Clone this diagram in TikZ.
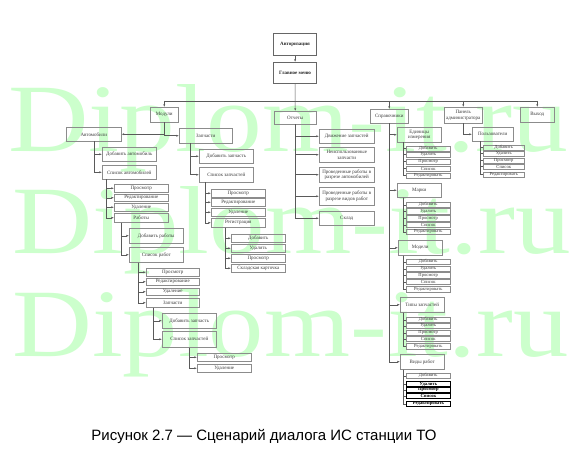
\documentclass[tikz,border=0pt]{standalone}
\usepackage{fontspec}
\setmainfont{Liberation Serif}
\newfontfamily\capfont{Liberation Sans}
\usetikzlibrary{arrows.meta}
\definecolor{wm}{RGB}{204,255,204}
\definecolor{bd}{RGB}{140,140,140}
\definecolor{ln}{RGB}{90,90,90}
\definecolor{tx}{RGB}{60,60,60}
\newcommand\bx[7][box]{\node[#1,anchor=north west,minimum width={(#5-#3)*1pt},minimum height={(#6-#4)*1pt}] (#2) at (#3,#4) {#7};}
\begin{document}
\begin{tikzpicture}[x=1pt,y=-1pt,
  box/.style={draw=bd,line width=0.5pt,inner sep=0pt,align=center,text=tx,font=\fontsize{5}{5.6}\selectfont},
  mainbox/.style={box,draw=black!60,line width=1.2pt,text=black!85,font=\bfseries\fontsize{5}{6}\selectfont},
  tiny/.style={box,font=\fontsize{4.6}{5}\selectfont},
  tinyb/.style={box,draw=black,line width=0.9pt,text=black,font=\bfseries\fontsize{4.6}{5}\selectfont},
  arr/.style={draw=ln,line width=0.5pt,-{Latex[length=2.6pt,width=2pt]}},
  con/.style={draw=ln,line width=0.5pt}]
\fill[white] (0,0) rectangle (574,460);
\useasboundingbox (0,0) rectangle (574,460);
% watermark
\node[anchor=base west,inner sep=0pt,text=wm] (wm1) at (8,152) {\resizebox{560pt}{67pt}{Diplom-it.ru}};
\node[anchor=base west,inner sep=0pt,text=wm] (wm2) at (12,253) {\resizebox{558pt}{67pt}{Diplom-it.ru}};
\node[anchor=base west,inner sep=0pt,text=wm] (wm3) at (12,356) {\resizebox{556pt}{67pt}{Diplom-it.ru}};
% top
\bx[mainbox]{auth}{273}{33}{316}{55}{Авторизация}
\bx[mainbox]{gm}{273}{62}{316}{83}{Главное меню}
\bx{mod}{150}{107}{178}{122}{Модули}
\bx{otch}{274}{111}{316}{124}{Отчеты}
\bx{spr}{370}{109}{408}{123}{Справочники}
\bx{pan}{444}{107}{482}{123}{Панель\\администратора}
\bx{exit}{520}{107}{554}{122}{Выход}
% Автомобили
\bx{avto}{66}{127}{121}{141}{Автомобили}
\bx{a1}{102}{147}{156}{161}{Добавить автомобиль}
\bx{a2}{102}{165}{156}{179}{Список автомобилей}
\bx{a21}{114}{184}{168}{192}{Просмотр}
\bx{a22}{114}{194}{168}{201}{Редактирование}
\bx{a23}{114}{203}{168}{211}{Удаление}
\bx{a24}{114}{213}{168}{222}{Работы}
\bx{r1}{129}{228}{183}{243}{Добавить работы}
\bx{r2}{129}{247}{183}{262}{Список работ}
\bx{r21}{146}{268}{199}{276}{Просмотр}
\bx{r22}{146}{278}{199}{285}{Редактирование}
\bx{r23}{146}{288}{199}{295}{Удаление}
\bx{r24}{146}{298}{199}{307}{Запчасти}
\bx{q1}{162}{313}{216}{328}{Добавить запчасть}
\bx{q2}{162}{331}{216}{347}{Список запчастей}
\bx{q21}{197}{353}{251}{361}{Просмотр}
\bx{q22}{197}{364}{251}{372}{Удаление}
% Запчасти
\bx{zap}{179}{128}{232}{143}{Запчасти}
\bx{z1}{199}{149}{253}{163}{Добавить запчасть}
\bx{z2}{199}{167}{253}{182}{Список запчастей}
\bx{z21}{211}{189}{265}{197}{Просмотр}
\bx{z22}{211}{198}{265}{206}{Редактирование}
\bx{z23}{211}{208}{265}{216}{Удаление}
\bx{z24}{211}{218}{265}{227}{Регистрация}
\bx{g1}{231}{234}{285}{242}{Добавить}
\bx{g2}{231}{244}{285}{252}{Удалить}
\bx{g3}{231}{254}{285}{262}{Просмотр}
\bx{g4}{231}{264}{285}{272}{Складская карточка}
% Отчеты
\bx{o1}{319}{129}{374}{143}{Движение запчастей}
\bx{o2}{319}{147}{374}{162}{Неиспользованные\\запчасти}
\bx{o3}{319}{167}{374}{182}{Проведенные работы в\\разрезе автомобилей}
\bx{o4}{319}{187}{374}{205}{Проведенные работы в\\разрезе видов работ}
\bx{o5}{319}{211}{374}{225}{Склад}
% Справочники
\bx{s1}{397}{127}{441}{142}{Единицы\\измерения}
\bx{s2}{397}{183}{441}{197}{Марки}
\bx{s3}{398}{240}{442}{255}{Модели}
\bx{s4}{400}{297}{444}{312}{Типы запчастей}
\bx{s5}{400}{354}{444}{369}{Виды работ}
\bx[tiny]{s1a}{406}{146}{450}{151}{Добавить}
\bx[tiny]{s1b}{406}{152}{450}{157}{Удалить}
\bx[tiny]{s1c}{406}{159}{450}{164}{Просмотр}
\bx[tiny]{s1d}{406}{166}{450}{171}{Список}
\bx[tiny]{s1e}{406}{173}{450}{178}{Редактировать}
\bx[tiny]{s2a}{406}{202}{450}{207}{Добавить}
\bx[tiny]{s2b}{406}{208}{450}{214}{Удалить}
\bx[tiny]{s2c}{406}{215}{450}{221}{Просмотр}
\bx[tiny]{s2d}{406}{222}{450}{227}{Список}
\bx[tiny]{s2e}{406}{229}{450}{234}{Редактировать}
\bx[tiny]{s3a}{406}{259}{450}{264}{Добавить}
\bx[tiny]{s3b}{406}{266}{450}{271}{Удалить}
\bx[tiny]{s3c}{406}{272}{450}{278}{Просмотр}
\bx[tiny]{s3d}{406}{279}{450}{284}{Список}
\bx[tiny]{s3e}{406}{286}{450}{292}{Редактировать}
\bx[tiny]{s4a}{406}{317}{450}{322}{Добавить}
\bx[tiny]{s4b}{406}{323}{450}{328}{Удалить}
\bx[tiny]{s4c}{406}{330}{450}{335}{Просмотр}
\bx[tiny]{s4d}{406}{336}{450}{341}{Список}
\bx[tiny]{s4e}{406}{343}{450}{349}{Редактировать}
\bx[tiny]{s5a}{406}{373}{450}{378}{Добавить}
\bx[tinyb]{s5b}{406}{381}{450}{386}{Удалить}
\bx[tinyb]{s5c}{406}{387}{450}{392}{Просмотр}
\bx[tinyb]{s5d}{406}{393}{450}{398}{Список}
\bx[tinyb]{s5e}{406}{401}{450}{406}{Редактировать}
% Панель
\bx{pol}{472}{127}{513}{141}{Пользователи}
\bx[tiny]{p1}{483}{145}{524}{150}{Добавить}
\bx[tiny]{p2}{483}{151}{524}{156}{Удалить}
\bx[tiny]{p3}{483}{158}{524}{163}{Просмотр}
\bx[tiny]{p4}{483}{164}{524}{169}{Список}
\bx[tiny]{p5}{483}{172}{524}{177}{Редактировать}
% caption
\node[font=\capfont\fontsize{15}{18}\selectfont,text=black] (cap) at (264,436) {Рисунок 2.7 — Сценарий диалога ИС станции ТО};
% connectors
\coordinate (bus) at (295,101);
\draw[arr] (auth) -- (gm);
\draw[arr] (gm) -- (otch);
\draw[con] (mod.north |- bus) -- (exit.north |- bus);
\foreach \n in {mod,spr,pan,exit} \draw[arr] (\n.north |- bus) -- (\n.north);
\draw[arr] (mod.south) |- (avto.east);
\draw[arr] (mod.south) |- (zap.west);
\foreach \k in {a1,a2} \draw[arr] (avto.south) |- (\k.west);
\foreach \k in {a21,a22,a23,a24} \draw[arr] ([xshift=4pt]a2.south west) |- (\k.west);
\foreach \k in {r1,r2} \draw[arr] ([xshift=7.5pt]a24.south west) |- (\k.west);
\foreach \k in {r21,r22,r23,r24} \draw[arr] ([xshift=9pt]r2.south west) |- (\k.west);
\foreach \k in {q1,q2} \draw[arr] ([xshift=7pt]r24.south west) |- (\k.west);
\foreach \k in {q21,q22} \draw[arr] (q2.south) |- (\k.west);
\foreach \k in {z1,z2} \draw[arr] ([xshift=11pt]zap.south west) |- (\k.west);
\foreach \k in {z21,z22,z23,z24} \draw[arr] ([xshift=6pt]z2.south west) |- (\k.west);
\foreach \k in {g1,g2,g3,g4} \draw[arr] ([xshift=14pt]z24.south west) |- (\k.west);
\foreach \k in {o1,o2,o3,o4,o5} \draw[arr] (otch.south) |- (\k.west);
\foreach \k in {s1,s2,s3,s4,s5} \draw[arr] (spr.south) |- (\k.west);
\foreach \s/\d in {s1/6.5,s2/6.5,s3/5.5,s4/3.5,s5/3.5}
  \foreach \c in {a,b,c,d,e} \draw[con] ([xshift=\d pt]\s.south west) |- (\s\c.west);
\draw[arr] (pan.south) |- (pol.west);
\foreach \k in {p1,p2,p3,p4,p5} \draw[con] ([xshift=8.5pt]pol.south west) |- (\k.west);
\end{tikzpicture}
\end{document}
